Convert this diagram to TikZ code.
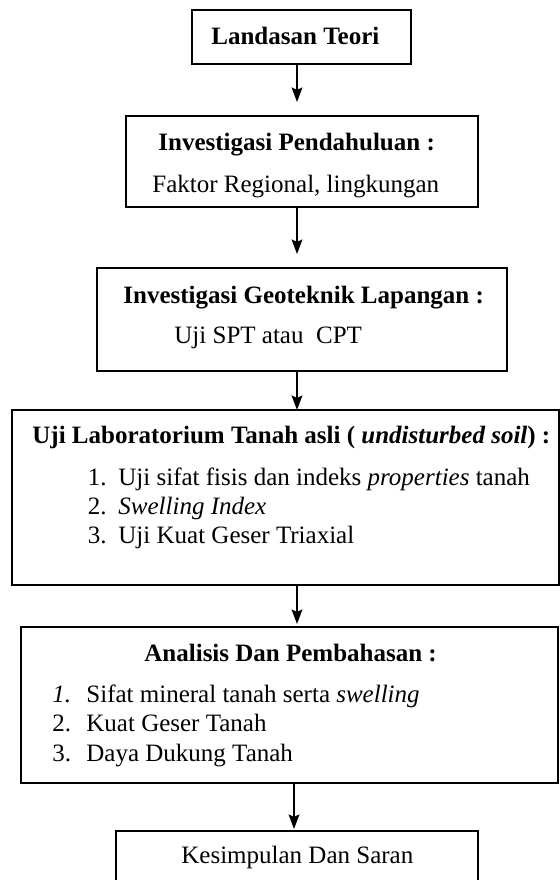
\documentclass[tikz,border=0pt]{standalone}
\usepackage{fontspec}
\setmainfont{Liberation Serif}
\usetikzlibrary{arrows.meta}
\tikzset{
  box/.style={draw, line width=0.7pt, rectangle, inner sep=0pt},
  txt/.style={inner sep=0pt, anchor=base west, font=\fontsize{12}{14}\selectfont},
  arr/.style={draw, line width=0.7pt, -{Stealth[length=7pt,width=5.2pt,inset=1.2pt]}}
}
\begin{document}
\begin{tikzpicture}[x=0.48pt,y=-0.48pt]
\useasboundingbox (0,0) rectangle (560,880);
\clip (0,0) rectangle (560,880);
% boxes
\node[box, minimum width=105.1pt, minimum height=25.9pt] (b1) at (301.5,37) {};
\node[box, minimum width=169.0pt, minimum height=43.7pt] (b2) at (302,161.5) {};
\node[box, minimum width=196.8pt, minimum height=49.4pt] (b3) at (302,319.5) {};
\node[box, minimum width=262.6pt, minimum height=84.0pt] (b4) at (285.5,497.5) {};
\node[box, minimum width=257.8pt, minimum height=74.9pt] (b5) at (289.5,705) {};
\node[box, minimum width=173.8pt, minimum height=38.4pt] (b6) at (297,871) {};
% texts
\node[txt] (t1) at (211,44) {\bfseries Landasan Teori};
\node[txt] (t2a) at (158,150) {\bfseries Investigasi Pendahuluan :};
\node[txt] (t2b) at (152,192) {Faktor Regional, lingkungan};
\node[txt] (t3a) at (123,303) {\bfseries Investigasi Geoteknik Lapangan :};
\node[txt] (t3b) at (174,343) {Uji SPT atau\ \ CPT};
\node[txt] (t4a) at (32,443) {\bfseries Uji Laboratorium Tanah asli ( \textit{undisturbed soil}) :};
\node[txt] (n41) at (87.5,485) {1.};
\node[txt] (i41) at (118,485) {Uji sifat fisis dan indeks \textit{properties} tanah};
\node[txt] (n42) at (87.5,514) {2.};
\node[txt] (i42) at (118,514) {\textit{Swelling Index}};
\node[txt] (n43) at (87.5,543) {3.};
\node[txt] (i43) at (118,543) {Uji Kuat Geser Triaxial};
\node[txt] (t5a) at (144,661) {\bfseries Analisis Dan Pembahasan :};
\node[txt] (n51) at (52,702) {\textit{1.}};
\node[txt] (i51) at (86,702) {Sifat mineral tanah serta \textit{swelling}};
\node[txt] (n52) at (52,731) {2.};
\node[txt] (i52) at (86,731) {Kuat Geser Tanah};
\node[txt] (n53) at (52,761) {3.};
\node[txt] (i53) at (86,761) {Daya Dukung Tanah};
\node[txt] (t6) at (181,863) {Kesimpulan Dan Saran};
% arrow end points
\coordinate (e1) at (297,102);
\coordinate (e2) at (297,254);
\coordinate (e3) at (297,410);
\coordinate (e4) at (297,624);
\coordinate (e5) at (294,829);
% arrows
\draw[arr] (b1.south -| e1) -- (e1);
\draw[arr] (b2.south -| e2) -- (e2);
\draw[arr] (b3.south -| e3) -- (e3);
\draw[arr] (b4.south -| e4) -- (e4);
\draw[arr] (b5.south -| e5) -- (e5);
\end{tikzpicture}
\end{document}
